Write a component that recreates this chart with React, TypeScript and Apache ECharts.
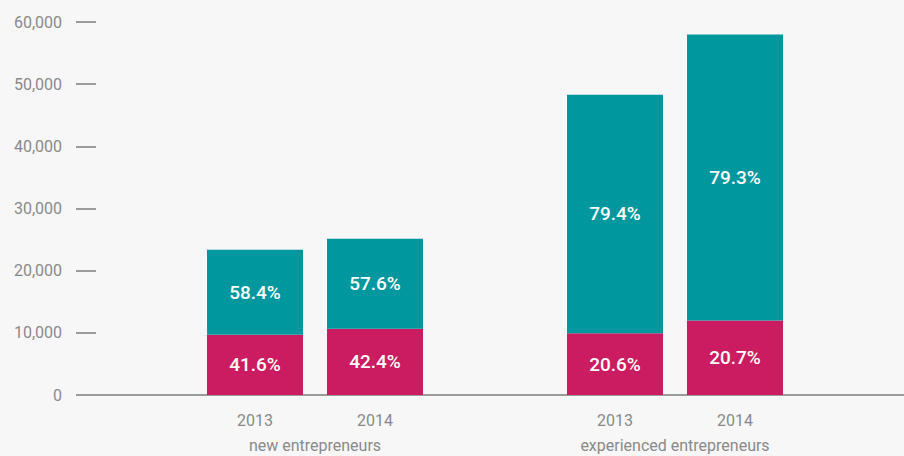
import React, { useEffect, useRef } from "react";
import * as echarts from "echarts";

const years = ["2013", "2014", "", "2013", "2014"];
const groups = ["new entrepreneurs", "experienced entrepreneurs"];
const magentaValues = [9700, 10650, null, 9950, 12000];
const tealValues = [13650, 14470, null, 38350, 45970];
const magentaLabels = ["41.6%", "42.4%", "", "20.6%", "20.7%"];
const tealLabels = ["58.4%", "57.6%", "", "79.4%", "79.3%"];
const yTicks = [0, 10000, 20000, 30000, 40000, 50000, 60000];

const FONT = "Roboto, 'Noto Sans', sans-serif";
const GRAY = "#8a8a8a";

export default function App() {
  const ref = useRef<HTMLDivElement>(null);
  useEffect(() => {
    if (!ref.current) return;
    const chart = echarts.init(ref.current, undefined, { renderer: "svg" });
    const yMax = yTicks[yTicks.length - 1];
    chart.setOption({
      animation: false,
      backgroundColor: "#f7f7f7",
      grid: [
        { left: 195, right: 109, top: 22, bottom: 61, outerBoundsMode: "none" },
        { left: 96, right: 0, top: 22, bottom: 61, outerBoundsMode: "none" },
      ],
      xAxis: [
        {
          type: "category",
          gridIndex: 0,
          position: "bottom",
          data: years,
          axisLine: { show: false },
          axisTick: { show: false },
          axisLabel: { color: GRAY, fontSize: 16, fontFamily: FONT, margin: 17, interval: 0 },
        },
        {
          type: "value",
          gridIndex: 0,
          position: "bottom",
          min: 0,
          max: 5,
          interval: 1,
          axisLine: { show: false },
          axisTick: { show: false },
          splitLine: { show: false },
          axisLabel: {
            color: GRAY,
            fontSize: 16,
            fontFamily: FONT,
            margin: 42,
            showMinLabel: true,
            showMaxLabel: true,
            formatter: (v: number) => (v === 1 ? groups[0] : v === 4 ? groups[1] : ""),
          },
        },
        {
          type: "value",
          gridIndex: 1,
          position: "bottom",
          min: 0,
          max: 1,
          axisLine: { show: true, lineStyle: { color: "#9b9b9b", width: 2 } },
          axisTick: { show: false },
          axisLabel: { show: false },
          splitLine: { show: false },
        },
      ],
      yAxis: [
        {
          type: "value",
          gridIndex: 0,
          min: 0,
          max: yMax,
          show: false,
        },
        {
          type: "value",
          gridIndex: 1,
          min: 0,
          max: yMax,
          interval: 10000,
          axisLine: { show: false },
          axisTick: { show: true, length: 20, lineStyle: { color: "#9b9b9b", width: 2 } },
          splitLine: { show: false },
          axisLabel: {
            color: GRAY,
            fontSize: 16,
            fontFamily: FONT,
            margin: 34,
            formatter: (v: number) => v.toLocaleString("en-US"),
          },
        },
      ],
      series: [
        {
          type: "bar",
          stack: "s",
          xAxisIndex: 0,
          yAxisIndex: 0,
          barWidth: 96,
          data: magentaValues,
          itemStyle: { color: "#cc1c61" },
          label: {
            show: true,
            position: "inside",
            color: "#fff",
            fontSize: 19,
            fontWeight: 500,
            fontFamily: FONT,
            formatter: (p: any) => magentaLabels[p.dataIndex],
          },
        },
        {
          type: "bar",
          stack: "s",
          xAxisIndex: 0,
          yAxisIndex: 0,
          barWidth: 96,
          data: tealValues,
          itemStyle: { color: "#00979f" },
          label: {
            show: true,
            position: "inside",
            color: "#fff",
            fontSize: 19,
            fontWeight: 500,
            fontFamily: FONT,
            formatter: (p: any) => tealLabels[p.dataIndex],
          },
        },
      ],
    });
    return () => chart.dispose();
  }, []);
  return (
    <div
      ref={ref}
      style={{ position: "fixed", left: 0, top: 0, width: 904, height: 456 }}
    />
  );
}
